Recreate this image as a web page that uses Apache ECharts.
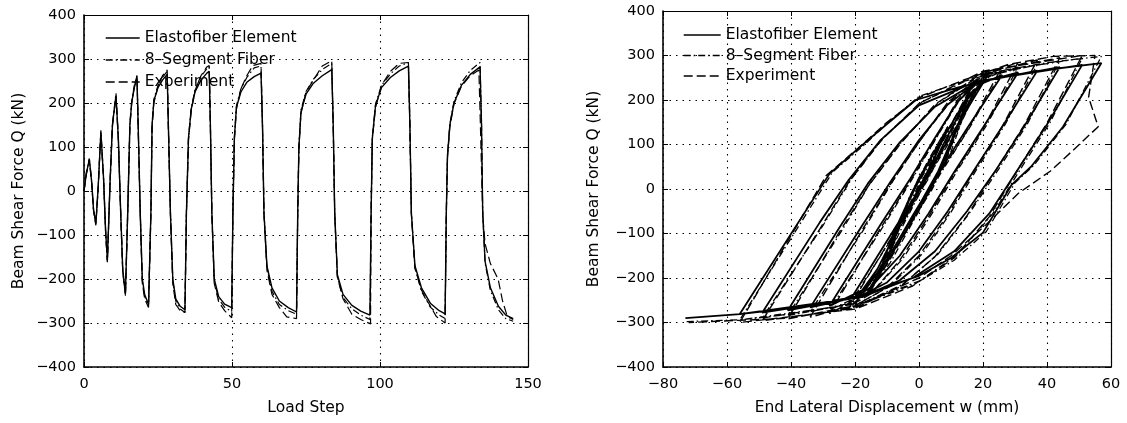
<!DOCTYPE html>
<html>
<head>
<meta charset="utf-8">
<script src="https://cdn.jsdelivr.net/npm/echarts@6/dist/echarts.min.js"></script>
<style>
html,body{margin:0;padding:0;background:#fff;}
#c{width:1127px;height:423px;}
</style>
</head>
<body>
<div id="c"></div>
<script>
// ---------- DATA ----------
const seriesNames = ['Elastofiber Element', '8\u2013Segment Fiber', 'Experiment'];
const leftXTicks = [0, 50, 100, 150];
const rightXTicks = [-80, -60, -40, -20, 0, 20, 40, 60];
const yTicks = [-400, -300, -200, -100, 0, 100, 200, 300, 400];

// Left: [load step, shear force Q (kN)]
const elastoStep = [
[0,0],[0.8,40],[1.8,72],[2.6,20],[3.2,-40],[4,-74],
[4.8,10],[5.7,134],[6.6,30],[7.3,-90],[7.9,-157],
[8.8,20],[9.6,150],[10.8,217],[11.6,120],[12.4,-50],[13.1,-180],[14,-232],
[14.8,-40],[15.5,150],[16.1,200],[17,235],[17.9,257],[18.3,150],[19,-50],[19.7,-200],[20.5,-235],[21.8,-258],
[22.6,-50],[23,150],[23.6,205],[25,235],[26.5,252],[28.1,265],[28.5,150],[29.2,-50],[30,-200],[31,-245],[32.5,-262],[34.1,-270],
[34.6,-50],[35.3,120],[36.2,185],[37.5,225],[39.5,252],[41.5,268],[42.3,272],[42.7,150],[43.2,-50],[44,-200],[45.5,-240],[47.5,-257],[49.9,-265],
[50.3,-50],[50.8,120],[51.5,190],[53,225],[55,247],[57.5,260],[59.8,268],[60.3,150],[60.8,-50],[61.8,-170],[63.5,-220],[66,-250],[69,-265],[71.8,-275],
[72.2,-50],[72.6,100],[73.3,180],[75,220],[77.5,245],[80.5,262],[83.7,276],[84.2,150],[84.7,-50],[85.6,-190],[87.5,-235],[90.5,-260],[93.5,-273],[96.6,-282],
[97,-50],[97.4,120],[98.5,195],[100.5,235],[103.5,258],[106.5,273],[109.6,284],[110.1,150],[110.6,-50],[111.8,-170],[114,-220],[117,-255],[120,-272],[122,-279],
[122.4,-50],[122.8,80],[123.6,150],[125,200],[127.5,240],[130.5,265],[133.8,282],[134.3,150],[134.7,-50],[135.5,-160],[137.3,-220],[140,-262],[142.5,-282],[145,-290]
];
const segmentStep = [
[0,0],[0.8,42],[1.8,74],[2.6,22],[3.2,-40],[4,-76],
[4.8,12],[5.7,138],[6.6,32],[7.3,-92],[7.9,-160],
[8.8,22],[9.6,152],[10.8,222],[11.6,122],[12.4,-48],[13.1,-182],[14,-236],
[14.8,-38],[15.5,152],[16.1,204],[17,240],[17.9,262],[18.3,152],[19,-48],[19.7,-204],[20.5,-240],[21.8,-262],
[22.6,-48],[23,152],[23.6,208],[25,240],[26.5,258],[28.1,272],[28.5,152],[29.2,-48],[30,-204],[31,-250],[32.5,-268],[34.1,-276],
[34.6,-48],[35.3,122],[36.2,188],[37.5,230],[39.5,260],[41.5,278],[42.3,282],[42.7,152],[43.2,-48],[44,-204],[45.5,-246],[47.5,-264],[49.9,-274],
[50.3,-48],[50.8,122],[51.5,194],[53,232],[55,258],[57.5,280],[59.8,284],[60.3,152],[60.8,-48],[61.8,-174],[63.5,-228],[66,-258],[69,-272],[71.8,-280],
[72.2,-48],[72.6,102],[73.3,184],[75,226],[77.5,254],[80.5,276],[83.7,290],[84.2,152],[84.7,-48],[85.6,-194],[87.5,-242],[90.5,-268],[93.5,-282],[96.6,-292],
[97,-48],[97.4,122],[98.5,198],[100.5,240],[103.5,266],[106.5,284],[109.6,292],[110.1,152],[110.6,-48],[111.8,-174],[114,-228],[117,-264],[120,-282],[122,-290],
[122.4,-48],[122.8,82],[123.6,152],[125,204],[127.5,246],[130.5,274],[133.8,292],[134.3,152],[134.7,-48],[135.5,-164],[137.3,-226],[140,-270],[142.5,-290],[145,-296]
];
const experimentStep = [
[0,0],[0.8,38],[1.8,70],[2.6,18],[3.2,-44],[4,-78],
[4.8,8],[5.7,132],[6.6,26],[7.3,-94],[7.9,-162],
[8.8,16],[9.6,146],[10.8,215],[11.6,116],[12.4,-54],[13.1,-186],[14,-238],
[14.8,-44],[15.5,146],[16.1,198],[17,238],[17.9,262],[18.3,146],[19,-54],[19.7,-210],[20.5,-245],[21.8,-265],
[22.6,-54],[23,146],[23.6,200],[25,238],[26.5,262],[28.1,275],[28.5,146],[29.2,-54],[30,-210],[31,-258],[32.5,-272],[34.1,-276],
[34.6,-54],[35.3,116],[36.2,180],[37.5,228],[39.5,262],[41.5,282],[42.3,285],[42.7,146],[43.2,-54],[44,-210],[45.5,-252],[47.5,-272],[49.9,-288],
[50.3,-54],[50.8,116],[51.5,186],[53,232],[55,262],[57,285],[59.8,290],[60.3,146],[60.8,-54],[61.8,-180],[63.5,-235],[66,-265],[68.5,-286],[71.8,-290],
[72.2,-54],[72.6,96],[73.3,176],[75,225],[77.5,252],[80.5,284],[83.7,296],[84.2,146],[84.7,-54],[85.6,-196],[87.5,-245],[90.5,-280],[93.5,-292],[96.8,-302],
[97,-54],[97.4,116],[98.5,190],[100.5,240],[103.5,272],[106.5,290],[109.6,292],[110.1,146],[110.6,-54],[111.8,-176],[114,-225],[116,-250],[119,-285],[122,-300],
[122.4,-54],[122.8,76],[123.6,146],[125,198],[127.5,238],[130.5,262],[133.4,275],[133.8,180],[134.7,-54],[135.5,-120],[137.3,-165],[139.9,-200],[141.4,-250],[143,-285],[145,-292]
];

// Right: [end lateral displacement w (mm), shear force Q (kN)]
const elastoDisp = [
[0,0],[5.5,72],[0,4],[-5,-74],[4,58],[9,134],[3,60],[-3,-20],[-10,-157],
[3,-5],[9,80],[13,160],[16,217],[8,120],[0,25],[-8,-100],[-12,-180],[-16,-232],
[-1,-50],[6,40],[12,140],[17,215],[21,250],[10,120],[2,25],[-6,-80],[-13,-180],[-18,-230],[-22,-255],
[-6,-70],[2,20],[9,120],[15,200],[19,235],[26,256],[15,136],[6,35],[-2,-60],[-10,-160],[-17,-225],[-28,-263],
[-12,-80],[-3,20],[5,115],[12,195],[18,237],[31,262],[20,138],[11,38],[3,-55],[-6,-150],[-15,-220],[-20,-244],[-34,-266],
[-18,-85],[-9,15],[0,110],[9,190],[18,239],[37,266],[26,140],[17,40],[9,-50],[0,-140],[-10,-210],[-19,-243],[-41,-273],
[-25,-88],[-16,12],[-6,105],[5,185],[18,240],[44,274],[33,142],[24,42],[15,-50],[5,-140],[-6,-205],[-18,-243],[-49,-278],
[-31,-75],[-22,20],[-12,110],[0,188],[18,242],[51,279],[40,145],[31,45],[22,-55],[11,-140],[-2,-200],[-18,-243],[-56,-281],
[-28,34],[-18.5,94],[-10,146],[-1,200],[12,228],[25,251],[40,268],[57,283],
[45,140],[35,50],[29,10],[20,-98],[10,-155],[0,-195],[-18.5,-240],[-39,-267],[-56,-281],[-73,-290]
];
const segmentDisp = [
[0,0],[5.5,75],[0,8],[-5,-76],[4,62],[9,140],[3,66],[-3,-18],[-10,-162],
[4,-2],[10,84],[14,166],[16,222],[9,126],[1,28],[-7,-100],[-12,-184],[-16,-236],
[0,-48],[7,44],[13,146],[18,222],[21,258],[11,124],[3,28],[-5,-82],[-12,-186],[-18,-236],[-22,-262],
[-5,-72],[3,24],[10,126],[16,210],[20,244],[26,266],[16,140],[7,38],[-1,-62],[-9,-166],[-16,-232],[-28,-272],
[-11,-82],[-2,24],[6,122],[13,204],[19,246],[31,274],[21,142],[12,42],[4,-56],[-5,-156],[-14,-228],[-20,-254],[-34,-276],
[-17,-88],[-8,20],[1,116],[10,198],[19,250],[37,280],[27,146],[18,44],[10,-52],[1,-146],[-9,-218],[-18,-254],[-41,-284],
[-24,-92],[-15,16],[-5,110],[6,194],[19,254],[44,288],[34,148],[25,46],[16,-52],[6,-146],[-5,-214],[-17,-254],[-49,-290],
[-30,-82],[-21,24],[-11,116],[1,196],[19,258],[51,294],[41,150],[32,48],[23,-56],[12,-148],[-1,-212],[-17,-256],[-56,-294],
[-27,38],[-17,100],[-9,154],[0,208],[13,240],[26,266],[40,284],[57,298],
[46,146],[36,54],[30,14],[21,-96],[11,-160],[1,-204],[-17,-254],[-38,-280],[-56,-294],[-73,-298]
];
const experimentDisp = [
[0,0],[5,70],[0,0],[-5,-78],[4,55],[9,140],[3,62],[-3,-25],[-10,-165],
[3,-10],[9,75],[13,160],[16,225],[8,118],[0,20],[-8,-105],[-12,-188],[-16,-240],
[-1,-55],[6,35],[12,135],[17,220],[21,262],[10,118],[2,20],[-6,-88],[-13,-188],[-18,-240],[-22,-268],
[-6,-78],[2,15],[9,115],[15,205],[20,250],[26,275],[15,130],[6,30],[-2,-70],[-10,-170],[-17,-238],[-28,-280],
[-12,-88],[-3,15],[5,110],[12,200],[20,255],[31,285],[20,135],[11,35],[3,-62],[-6,-160],[-15,-235],[-22,-265],[-34,-288],
[-18,-95],[-9,10],[0,105],[9,195],[20,258],[37,290],[26,140],[17,38],[9,-58],[0,-150],[-10,-222],[-20,-262],[-41,-292],
[-25,-98],[-16,5],[-6,100],[5,190],[20,262],[44,295],[33,145],[24,42],[15,-60],[5,-152],[-6,-220],[-20,-268],[-49,-296],
[-31,-90],[-22,15],[-12,108],[0,192],[20,265],[51,300],[40,148],[31,45],[22,-62],[11,-155],[-2,-218],[-20,-270],[-56,-300],
[-29,30],[-19,92],[-10,150],[0,205],[14,245],[28,280],[42,298],[55,300],
[53,206],[56,140],[48,86],[41,40],[31,-10],[21,-80],[10,-150],[0,-200],[-20,-265],[-40,-290],[-72,-300]
];

// ---------- CHART ----------
const FONT = '"DejaVu Sans", Verdana, sans-serif';
const TICK_FS = 14.5;
const NAME_FS = 15.5;
const minus = v => String(v).replace('-', '\u2212');
const dashDot = [7, 3, 1.5, 3];
const dashed = [9, 4];

function valAxis(extra, labelMargin) {
  return Object.assign({
    type: 'value',
    axisLine: { show: true, onZero: false, lineStyle: { color: '#000', width: 1.6 } },
    axisTick: { show: true, inside: true, length: 5, lineStyle: { color: '#000' } },
    axisLabel: { color: '#000', fontFamily: FONT, fontSize: TICK_FS, margin: labelMargin, formatter: minus },
    splitLine: { show: true, lineStyle: { color: '#000', type: [1.5, 5], width: 1.1 } },
    nameTextStyle: { color: '#000', fontFamily: FONT, fontSize: NAME_FS },
    nameLocation: 'middle'
  }, extra);
}
function mirrorAxis(extra) {
  return Object.assign({
    type: 'value',
    axisLine: { show: true, onZero: false, lineStyle: { color: '#000', width: 1.2 } },
    axisTick: { show: true, inside: true, length: 5, lineStyle: { color: '#000' } },
    axisLabel: { show: false },
    splitLine: { show: false }
  }, extra);
}

function lineSeries(name, data, xi, yi, type, width) {
  return {
    name: name, type: 'line', xAxisIndex: xi, yAxisIndex: yi,
    data: data, showSymbol: false, symbol: 'none', smooth: false,
    lineStyle: { color: '#000', width: width, type: type },
    itemStyle: { color: '#000' }, animation: false
  };
}

function legendAt(left, top, itemWidth, gap) {
  return {
    orient: 'vertical', left: left, top: top, itemWidth: itemWidth, itemHeight: 14, itemGap: gap,
    data: seriesNames.slice(), selectedMode: false, padding: 0,
    itemStyle: { color: 'rgba(0,0,0,0)', borderWidth: 0, opacity: 0 },
    lineStyle: { color: '#000', width: 1.4 },
    textStyle: { color: '#000', fontFamily: FONT, fontSize: NAME_FS }
  };
}

const chart = echarts.init(document.getElementById('c'), null, { renderer: 'canvas' });
chart.setOption({
  backgroundColor: '#fff',
  animation: false,
  grid: [
    { left: 84, top: 15, width: 444, height: 352, show: false },
    { left: 663, top: 11, width: 448, height: 356, show: false }
  ],
  xAxis: [
    valAxis({ gridIndex: 0, min: 0, max: 150, interval: 50, name: 'Load Step', nameGap: 33 }, 10),
    valAxis({ gridIndex: 1, min: -80, max: 60, interval: 20, name: 'End Lateral Displacement w (mm)', nameGap: 33 }, 10),
    mirrorAxis({ gridIndex: 0, min: 0, max: 150, interval: 50, position: 'top' }),
    mirrorAxis({ gridIndex: 1, min: -80, max: 60, interval: 20, position: 'top' })
  ],
  yAxis: [
    valAxis({ gridIndex: 0, min: -400, max: 400, interval: 100, name: 'Beam Shear Force Q (kN)', nameGap: 57 }, 8),
    valAxis({ gridIndex: 1, min: -400, max: 400, interval: 100, name: 'Beam Shear Force Q (kN)', nameGap: 61 }, 8),
    mirrorAxis({ gridIndex: 0, min: -400, max: 400, interval: 100, position: 'right' }),
    mirrorAxis({ gridIndex: 1, min: -400, max: 400, interval: 100, position: 'right' })
  ],
  legend: [
    legendAt(105, 30, 34, 6),
    legendAt(683, 27, 37, 4.5)
  ],
  series: [
    lineSeries(seriesNames[0], elastoStep, 0, 0, 'solid', 1.4),
    lineSeries(seriesNames[1], segmentStep, 0, 0, dashDot, 1.2),
    lineSeries(seriesNames[2], experimentStep, 0, 0, dashed, 1.2),
    lineSeries(seriesNames[0], elastoDisp, 1, 1, 'solid', 1.8),
    lineSeries(seriesNames[1], segmentDisp, 1, 1, dashDot, 1.3),
    lineSeries(seriesNames[2], experimentDisp, 1, 1, dashed, 1.4)
  ]
});
</script>
</body>
</html>
